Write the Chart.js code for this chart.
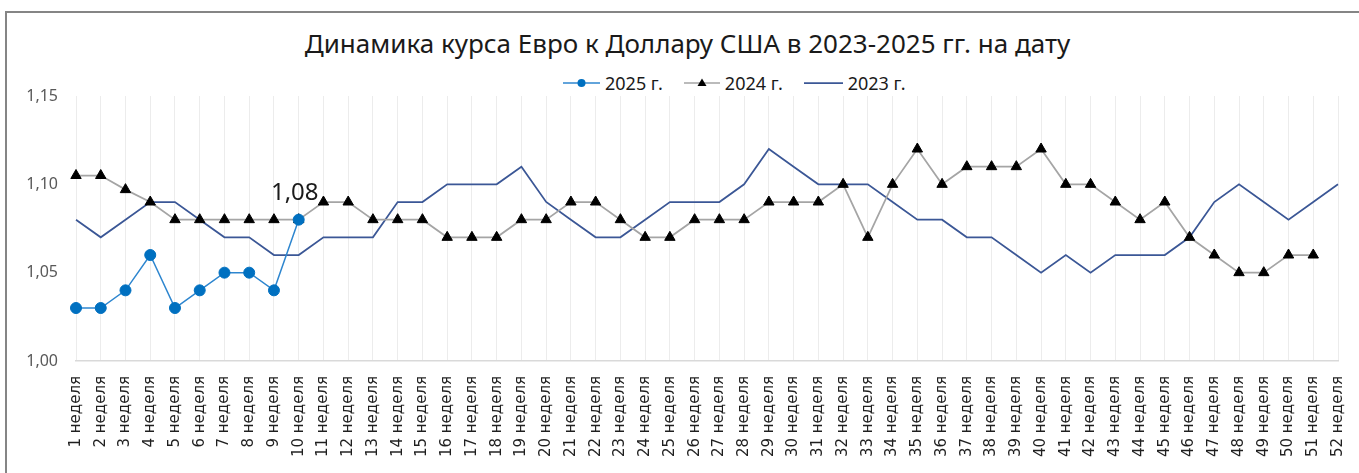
<!DOCTYPE html>
<html lang="ru">
<head>
<meta charset="utf-8">
<title>Динамика курса Евро к Доллару США</title>
<script src="https://cdn.jsdelivr.net/npm/chart.js@4.4.1/dist/chart.umd.min.js"></script>
<style>
  html, body { margin: 0; padding: 0; background: #fff; overflow: hidden; }
  body { width: 1359px; height: 473px; position: relative; font-family: 'Noto Sans', sans-serif; }
  .frame { position: absolute; left: 5px; top: 11px; width: 1400px; height: 520px; border: 2px solid #858585; }
  .title { position: absolute; left: 0; top: 30px; width: 1375px; text-align: center;
           font-size: 26px; line-height: 26px; color: #1a1a1a; white-space: nowrap; }
  .legend { position: absolute; left: 563px; top: 74px; height: 18px; display: flex; align-items: center;
            font-size: 18px; line-height: 18px; color: #1a1a1a; white-space: nowrap; }
  .legend svg { display: block; }
  .legend .txt { margin: 0 21px 0 5px; }
  canvas { position: absolute; left: 0; top: 0; }
</style>
</head>
<body>
<div class="frame"></div>
<div class="title">Динамика курса Евро к Доллару США в 2023-2025 гг. на дату</div>
<div class="legend" id="legend"></div>
<canvas id="chart" width="1359" height="473"></canvas>

<script>
// ---- data ----
const weeks = [
  '1 неделя', '2 неделя', '3 неделя', '4 неделя', '5 неделя', '6 неделя', '7 неделя', '8 неделя',
  '9 неделя', '10 неделя', '11 неделя', '12 неделя', '13 неделя', '14 неделя', '15 неделя', '16 неделя',
  '17 неделя', '18 неделя', '19 неделя', '20 неделя', '21 неделя', '22 неделя', '23 неделя', '24 неделя',
  '25 неделя', '26 неделя', '27 неделя', '28 неделя', '29 неделя', '30 неделя', '31 неделя', '32 неделя',
  '33 неделя', '34 неделя', '35 неделя', '36 неделя', '37 неделя', '38 неделя', '39 неделя', '40 неделя',
  '41 неделя', '42 неделя', '43 неделя', '44 неделя', '45 неделя', '46 неделя', '47 неделя', '48 неделя',
  '49 неделя', '50 неделя', '51 неделя', '52 неделя'
];

const rate2025 = [1.03, 1.03, 1.04, 1.06, 1.03, 1.04, 1.05, 1.05, 1.04, 1.08];

const rate2024 = [
  1.105, 1.105, 1.097, 1.09, 1.08, 1.08, 1.08, 1.08, 1.08, 1.08,
  1.09, 1.09, 1.08, 1.08, 1.08, 1.07, 1.07, 1.07, 1.08, 1.08,
  1.09, 1.09, 1.08, 1.07, 1.07, 1.08, 1.08, 1.08, 1.09, 1.09,
  1.09, 1.10, 1.07, 1.10, 1.12, 1.10, 1.11, 1.11, 1.11, 1.12,
  1.10, 1.10, 1.09, 1.08, 1.09, 1.07, 1.06, 1.05, 1.05, 1.06,
  1.06
];

const rate2023 = [
  1.08, 1.07, 1.08, 1.09, 1.09, 1.08, 1.07, 1.07, 1.06, 1.06,
  1.07, 1.07, 1.07, 1.09, 1.09, 1.10, 1.10, 1.10, 1.11, 1.09,
  1.08, 1.07, 1.07, 1.08, 1.09, 1.09, 1.09, 1.10, 1.12, 1.11,
  1.10, 1.10, 1.10, 1.09, 1.08, 1.08, 1.07, 1.07, 1.06, 1.05,
  1.06, 1.05, 1.06, 1.06, 1.06, 1.07, 1.09, 1.10, 1.09, 1.08,
  1.09, 1.10
];

const seriesNames = ['2025 г.', '2024 г.', '2023 г.'];
const yMin = 1.00, yMax = 1.15, yStep = 0.05;

const fmtRate = v => Number(v).toFixed(2).replace('.', ',');

// ---- legend (html) ----
const legendMarks = [
  '<svg width="37" height="12"><line x1="0" y1="6" x2="37" y2="6" stroke="#2E86CF" stroke-width="1.5"/><circle cx="18.5" cy="6" r="4" fill="#0070C0"/></svg>',
  '<svg width="36" height="12"><line x1="0" y1="6" x2="36" y2="6" stroke="#A5A5A5" stroke-width="1.5"/><polygon points="18,1.5 22.5,9 13.5,9" fill="#000"/></svg>',
  '<svg width="39" height="12"><line x1="0" y1="6" x2="39" y2="6" stroke="#3B5796" stroke-width="1.75"/></svg>'
];
document.getElementById('legend').innerHTML = seriesNames
  .map((n, i) => `${legendMarks[i]}<span class="txt">${n}</span>`).join('');

// ---- "1,08" label on the last 2025 point ----
const lastLabel = {
  id: 'lastLabel',
  afterDatasetsDraw(chart) {
    const meta = chart.getDatasetMeta(0);
    const pt = meta.data[meta.data.length - 1];
    const v = chart.data.datasets[0].data[meta.data.length - 1];
    const ctx = chart.ctx;
    ctx.save();
    ctx.font = "24px 'Noto Sans'";
    ctx.fillStyle = '#1a1a1a';
    ctx.textAlign = 'center';
    ctx.textBaseline = 'alphabetic';
    ctx.fillText(fmtRate(v), pt.x - 4, pt.y - 20);
    ctx.restore();
  }
};

new Chart(document.getElementById('chart').getContext('2d'), {
  type: 'line',
  data: {
    labels: weeks,
    datasets: [{
      label: seriesNames[0],
      data: rate2025,
      borderColor: '#2E86CF',
      borderWidth: 1.5,
      pointStyle: 'circle',
      pointRadius: 5.5,
      pointBackgroundColor: '#0070C0',
      pointBorderColor: '#0070C0',
      pointBorderWidth: 1,
      tension: 0
    }, {
      label: seriesNames[1],
      data: rate2024,
      borderColor: '#A5A5A5',
      borderWidth: 1.75,
      pointStyle: 'triangle',
      pointRadius: 6,
      pointBackgroundColor: '#000',
      pointBorderColor: '#000',
      pointBorderWidth: 1,
      tension: 0
    }, {
      label: seriesNames[2],
      data: rate2023,
      borderColor: '#3B5796',
      borderWidth: 1.75,
      pointRadius: 0,
      tension: 0
    }]
  },
  options: {
    responsive: false,
    animation: false,
    events: [],
    layout: { padding: { top: 96, right: 21, left: 0, bottom: 0 } },
    plugins: {
      legend: { display: false },
      title: { display: false },
      tooltip: { enabled: false }
    },
    scales: {
      x: {
        grid: { color: '#ececec', drawTicks: false },
        border: { color: '#d9d9d9', width: 1.5 },
        ticks: {
          autoSkip: false, maxRotation: 90, minRotation: 90, padding: 15,
          color: '#1f1f1f', font: { family: 'DejaVu Sans', size: 15 }
        },
        afterFit: s => { s.height = 112; s.paddingLeft = 0; s.paddingRight = 0; }
      },
      y: {
        min: yMin, max: yMax,
        grid: { display: false },
        border: { display: false },
        ticks: {
          stepSize: yStep, padding: 10, color: '#595959',
          font: { family: 'Noto Sans', size: 16 },
          callback: v => fmtRate(v)
        },
        afterFit: s => { s.width = 76; }
      }
    }
  },
  plugins: [lastLabel]
});
</script>
</body>
</html>
